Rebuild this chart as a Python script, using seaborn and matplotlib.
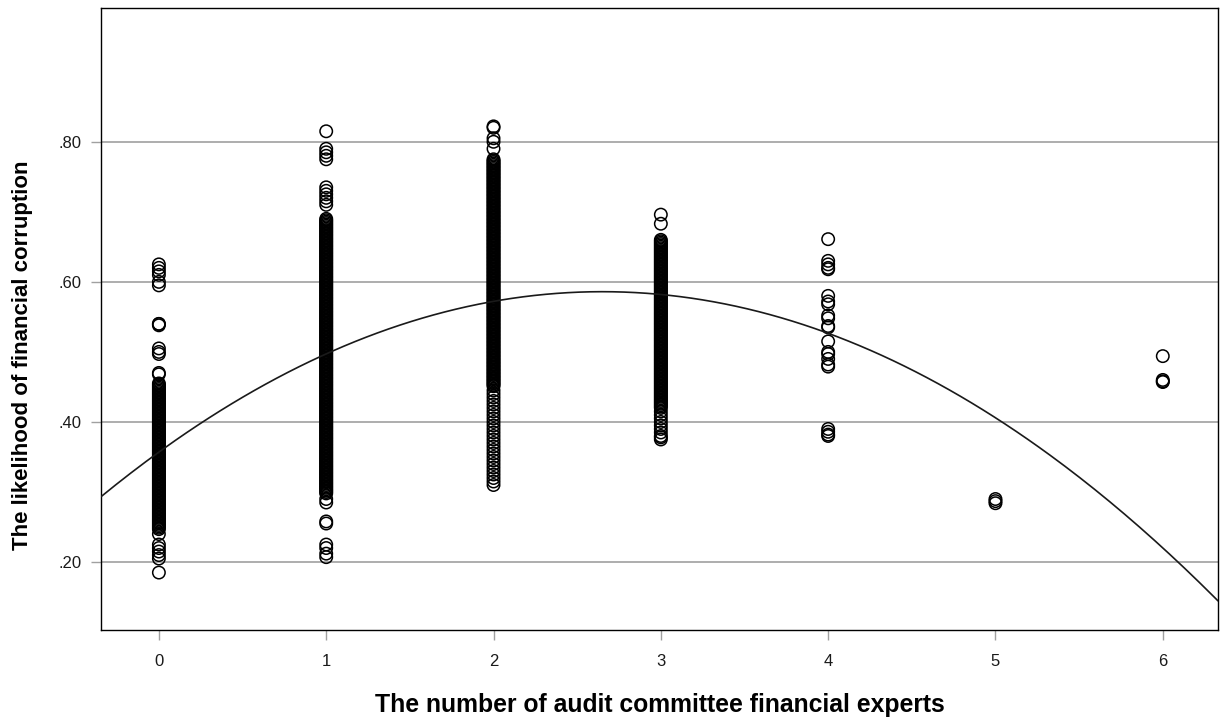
import numpy as np
import pandas as pd
import matplotlib
matplotlib.use("Agg")
import matplotlib.pyplot as plt
import seaborn as sns

# ---------------- data ----------------
experts_0 = [0.625, 0.62, 0.615, 0.61, 0.60, 0.595, 0.54, 0.54, 0.538, 0.505, 0.50, 0.497, 0.47, 0.468,
             0.455, 0.451, 0.447, 0.443, 0.439, 0.435, 0.431, 0.427, 0.423, 0.419, 0.415, 0.411, 0.407,
             0.403, 0.399, 0.395, 0.391, 0.387, 0.383, 0.379, 0.375, 0.371, 0.367, 0.363, 0.359, 0.355,
             0.351, 0.347, 0.343, 0.339, 0.335, 0.331, 0.327, 0.323, 0.319, 0.315, 0.311, 0.307, 0.303,
             0.299, 0.295, 0.291, 0.287, 0.283, 0.279, 0.275, 0.271, 0.267, 0.263, 0.259, 0.255, 0.251,
             0.247,
             0.453, 0.449, 0.445, 0.441, 0.437, 0.433, 0.429, 0.425, 0.421, 0.417, 0.413, 0.409, 0.405,
             0.401, 0.397, 0.393, 0.389, 0.385, 0.381, 0.377, 0.373, 0.369, 0.365, 0.361, 0.357, 0.353,
             0.349, 0.345, 0.341, 0.337, 0.333, 0.329, 0.325, 0.321, 0.317, 0.313, 0.309, 0.305, 0.301,
             0.297, 0.293, 0.289, 0.285, 0.281, 0.277, 0.273, 0.269, 0.265, 0.261, 0.257, 0.253, 0.249,
             0.24, 0.225, 0.22, 0.215, 0.21, 0.205, 0.185]
experts_1 = [0.815, 0.79, 0.785, 0.78, 0.775, 0.735, 0.73, 0.725, 0.72, 0.715, 0.71,
             0.690, 0.686, 0.682, 0.678, 0.674, 0.670, 0.666, 0.662, 0.658, 0.654, 0.650, 0.646, 0.642,
             0.638, 0.634, 0.630, 0.626, 0.622, 0.618, 0.614, 0.610, 0.606, 0.602, 0.598, 0.594, 0.590,
             0.586, 0.582, 0.578, 0.574, 0.570, 0.566, 0.562, 0.558, 0.554, 0.550, 0.546, 0.542, 0.538,
             0.534, 0.530, 0.526, 0.522, 0.518, 0.514, 0.510, 0.506, 0.502, 0.498, 0.494, 0.490, 0.486,
             0.482, 0.478, 0.474, 0.470, 0.466, 0.462, 0.458, 0.454, 0.450, 0.446, 0.442, 0.438, 0.434,
             0.430, 0.426, 0.422, 0.418, 0.414, 0.410, 0.406, 0.402, 0.398, 0.394, 0.390, 0.386, 0.382,
             0.378, 0.374, 0.370, 0.366, 0.362, 0.358, 0.354, 0.350, 0.346, 0.342, 0.338, 0.334, 0.330,
             0.326, 0.322, 0.318, 0.314, 0.310, 0.306, 0.302, 0.298,
             0.688, 0.684, 0.680, 0.676, 0.672, 0.668, 0.664, 0.660, 0.656, 0.652, 0.648, 0.644, 0.640,
             0.636, 0.632, 0.628, 0.624, 0.620, 0.616, 0.612, 0.608, 0.604, 0.600, 0.596, 0.592, 0.588,
             0.584, 0.580, 0.576, 0.572, 0.568, 0.564, 0.560, 0.556, 0.552, 0.548, 0.544, 0.540, 0.536,
             0.532, 0.528, 0.524, 0.520, 0.516, 0.512, 0.508, 0.504, 0.500, 0.496, 0.492, 0.488, 0.484,
             0.480, 0.476, 0.472, 0.468, 0.464, 0.460, 0.456, 0.452, 0.448, 0.444, 0.440, 0.436, 0.432,
             0.428, 0.424, 0.420, 0.416, 0.412, 0.408, 0.404, 0.400, 0.396, 0.392, 0.388, 0.384, 0.380,
             0.376, 0.372, 0.368, 0.364, 0.360, 0.356, 0.352, 0.348, 0.344, 0.340, 0.336, 0.332, 0.328,
             0.324, 0.320, 0.316, 0.312, 0.308, 0.304, 0.300,
             0.29, 0.285, 0.258, 0.255, 0.225, 0.22, 0.212, 0.207]
experts_2 = [0.822, 0.82, 0.805, 0.80, 0.79,
             0.775, 0.771, 0.767, 0.763, 0.759, 0.755, 0.751, 0.747, 0.743, 0.739, 0.735, 0.731, 0.727,
             0.723, 0.719, 0.715, 0.711, 0.707, 0.703, 0.699, 0.695, 0.691, 0.687, 0.683, 0.679, 0.675,
             0.671, 0.667, 0.663, 0.659, 0.655, 0.651, 0.647, 0.643, 0.639, 0.635, 0.631, 0.627, 0.623,
             0.619, 0.615, 0.611, 0.607, 0.603, 0.599, 0.595, 0.591, 0.587, 0.583, 0.579, 0.575, 0.571,
             0.567, 0.563, 0.559, 0.555, 0.551, 0.547, 0.543, 0.539, 0.535, 0.531, 0.527, 0.523, 0.519,
             0.515, 0.511, 0.507, 0.503, 0.499, 0.495, 0.491, 0.487, 0.483, 0.479, 0.475, 0.471, 0.467,
             0.463, 0.459, 0.455, 0.451,
             0.773, 0.769, 0.765, 0.761, 0.757, 0.753, 0.749, 0.745, 0.741, 0.737, 0.733, 0.729, 0.725,
             0.721, 0.717, 0.713, 0.709, 0.705, 0.701, 0.697, 0.693, 0.689, 0.685, 0.681, 0.677, 0.673,
             0.669, 0.665, 0.661, 0.657, 0.653, 0.649, 0.645, 0.641, 0.637, 0.633, 0.629, 0.625, 0.621,
             0.617, 0.613, 0.609, 0.605, 0.601, 0.597, 0.593, 0.589, 0.585, 0.581, 0.577, 0.573, 0.569,
             0.565, 0.561, 0.557, 0.553, 0.549, 0.545, 0.541, 0.537, 0.533, 0.529, 0.525, 0.521, 0.517,
             0.513, 0.509, 0.505, 0.501, 0.497, 0.493, 0.489, 0.485, 0.481, 0.477, 0.473, 0.469, 0.465,
             0.461, 0.457, 0.453,
             0.445, 0.44, 0.435, 0.43, 0.425, 0.42, 0.415, 0.41, 0.405, 0.40, 0.395, 0.39, 0.385, 0.38,
             0.375, 0.37, 0.365, 0.36, 0.355, 0.35, 0.345, 0.34, 0.335, 0.33, 0.325, 0.32, 0.315, 0.31]
experts_3 = [0.696, 0.683,
             0.660, 0.656, 0.652, 0.648, 0.644, 0.640, 0.636, 0.632, 0.628, 0.624, 0.620, 0.616, 0.612,
             0.608, 0.604, 0.600, 0.596, 0.592, 0.588, 0.584, 0.580, 0.576, 0.572, 0.568, 0.564, 0.560,
             0.556, 0.552, 0.548, 0.544, 0.540, 0.536, 0.532, 0.528, 0.524, 0.520, 0.516, 0.512, 0.508,
             0.504, 0.500, 0.496, 0.492, 0.488, 0.484, 0.480, 0.476, 0.472, 0.468, 0.464, 0.460, 0.456,
             0.452, 0.448, 0.444, 0.440, 0.436, 0.432, 0.428, 0.424, 0.420,
             0.658, 0.654, 0.650, 0.646, 0.642, 0.638, 0.634, 0.630, 0.626, 0.622, 0.618, 0.614, 0.610,
             0.606, 0.602, 0.598, 0.594, 0.590, 0.586, 0.582, 0.578, 0.574, 0.570, 0.566, 0.562, 0.558,
             0.554, 0.550, 0.546, 0.542, 0.538, 0.534, 0.530, 0.526, 0.522, 0.518, 0.514, 0.510, 0.506,
             0.502, 0.498, 0.494, 0.490, 0.486, 0.482, 0.478, 0.474, 0.470, 0.466, 0.462, 0.458, 0.454,
             0.450, 0.446, 0.442, 0.438, 0.434, 0.430, 0.426, 0.422,
             0.415, 0.41, 0.405, 0.40, 0.395, 0.39, 0.385, 0.38, 0.378, 0.375]
experts_4 = [0.661, 0.63, 0.625, 0.62, 0.618, 0.58, 0.572, 0.568, 0.552, 0.548, 0.537, 0.535,
             0.515, 0.50, 0.497, 0.49, 0.482, 0.479, 0.39, 0.386, 0.382, 0.38]
experts_5 = [0.29, 0.287, 0.284]
experts_6 = [0.494, 0.46, 0.458, 0.457]

groups = [experts_0, experts_1, experts_2, experts_3, experts_4, experts_5, experts_6]
x_categories = [0, 1, 2, 3, 4, 5, 6]

# quadratic fit line coefficients (intercept, linear, quadratic)
fit_coeffs = [0.357, 0.1728, -0.0326]

y_ticks = [0.20, 0.40, 0.60, 0.80]
y_tick_labels = [".20", ".40", ".60", ".80"]
x_label = "The number of audit committee financial experts"
y_label = "The likelihood of financial corruption"

# ---------------- build frames ----------------
rows = []
for xc, vals in zip(x_categories, groups):
    for v in vals:
        rows.append((xc, v))
df = pd.DataFrame(rows, columns=["experts", "likelihood"])

xlim = (-0.346, 6.33)
xfit = np.linspace(xlim[0], xlim[1], 300)
yfit = fit_coeffs[0] + fit_coeffs[1] * xfit + fit_coeffs[2] * xfit ** 2
fit_df = pd.DataFrame({"experts": xfit, "likelihood": yfit})

# ---------------- plot ----------------
sns.set_theme(style="white")
plt.rcParams["font.family"] = ["Liberation Sans", "DejaVu Sans"]

fig = plt.figure(figsize=(12.22, 7.26), dpi=100)
ax = fig.add_axes([101 / 1222, 1 - 630 / 726, (1218 - 101) / 1222, (630 - 8) / 726])

for yt in y_ticks:
    ax.axhline(yt, color="#a0a0a0", lw=1.2, zorder=0)

sns.scatterplot(data=df, x="experts", y="likelihood", ax=ax, marker="o",
                s=80, facecolors="none", edgecolor="black", linewidth=1.1, zorder=3)
sns.lineplot(data=fit_df, x="experts", y="likelihood", ax=ax, color="#1a1a1a",
             lw=1.2, zorder=4)

ax.set_xlim(*xlim)
ax.set_ylim(0.103, 0.991)
ax.set_xticks(x_categories)
ax.set_xticklabels([str(c) for c in x_categories])
ax.set_yticks(y_ticks)
ax.set_yticklabels(y_tick_labels)

ax.tick_params(axis="both", which="major", direction="out", length=7, width=1,
               color="#a0a0a0", labelsize=12, labelcolor="#1a1a1a",
               bottom=True, left=True, top=False, right=False)
ax.tick_params(axis="x", pad=10)
ax.tick_params(axis="y", pad=7)

for sp in ax.spines.values():
    sp.set_visible(True)
    sp.set_color("black")
    sp.set_linewidth(1.0)

ax.set_xlabel(x_label, fontsize=17.8, fontweight="bold", color="black")
ax.set_ylabel(y_label, fontsize=16, fontweight="bold", color="black")
ax.xaxis.set_label_coords(0.5, (630 - 705) / 622)
ax.xaxis.label.set_va("center")
ax.yaxis.set_label_coords((23 - 101) / 1117, (630 - 355) / 622)
ax.yaxis.label.set_va("center")

fig.savefig("out.png", dpi=100)
